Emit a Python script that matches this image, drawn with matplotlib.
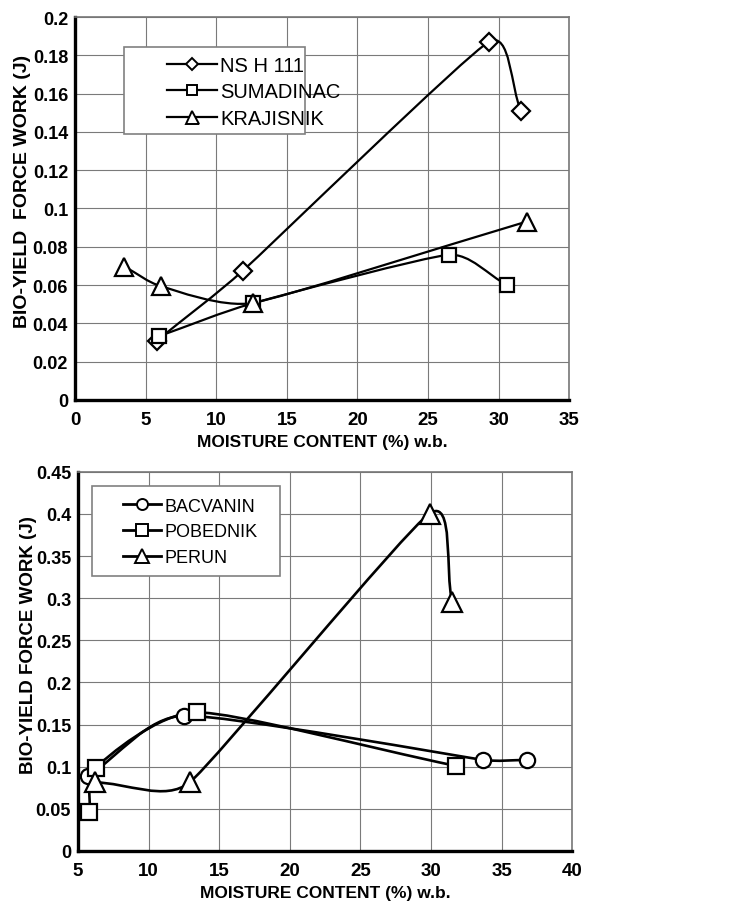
import numpy as np
import matplotlib
matplotlib.use("Agg")
import matplotlib.pyplot as plt
from matplotlib.path import Path
from matplotlib.patches import PathPatch, Rectangle
from matplotlib.lines import Line2D

plt.rcParams['font.family'] = ['Liberation Sans', 'DejaVu Sans']

# ---- top panel data
nsh_x = [5.8, 11.9, 29.3, 31.6]
nsh_y = [0.031, 0.0676, 0.187, 0.1507]
sum_x = [5.95, 12.6, 26.45, 30.6]
sum_y = [0.0333, 0.0505, 0.0758, 0.060]
kra_x = [3.5, 6.1, 12.6, 32.0]
kra_y = [0.0697, 0.0594, 0.0507, 0.0932]

# ---- bottom panel data
bac_x = [5.7, 12.5, 33.7, 36.8]
bac_y = [0.089, 0.1606, 0.108, 0.108]
pob_x = [5.8, 6.25, 13.4, 31.75]
pob_y = [0.0464, 0.099, 0.1645, 0.101]
per_x = [6.2, 12.9, 29.9, 31.5]
per_y = [0.0813, 0.0813, 0.4004, 0.296]


def smooth_line(ax, xs, ys, lw=1.6):
    # smoothed line like a spreadsheet chart: bezier through points, in screen space
    pts = ax.transData.transform(np.column_stack([xs, ys]))
    n = len(pts)
    seg = [np.hypot(*(pts[i + 1] - pts[i])) for i in range(n - 1)]
    tang, mag = [], []
    for i in range(n):
        a = pts[i - 1] if i > 0 else pts[i]
        b = pts[i + 1] if i < n - 1 else pts[i]
        d = b - a
        tang.append(d / np.hypot(*d))
        near = [seg[j] for j in (i - 1, i) if 0 <= j < n - 1]
        mag.append(min(near) / 3.0)
    verts = [pts[0]]
    codes = [Path.MOVETO]
    for i in range(n - 1):
        verts += [pts[i] + tang[i] * mag[i], pts[i + 1] - tang[i + 1] * mag[i + 1], pts[i + 1]]
        codes += [Path.CURVE4] * 3
    verts = ax.transData.inverted().transform(np.array(verts))
    ax.add_patch(PathPatch(Path(verts, codes), fill=False, lw=lw,
                           edgecolor='black', zorder=3, capstyle='round'))


def style_axes(ax, xlim, ylim, xt, yt, ylabels, ylab, ylab_fs, ylab_x):
    ax.set_xlim(*xlim)
    ax.set_ylim(*ylim)
    ax.set_xticks(xt)
    ax.set_yticks(yt)
    ax.set_yticklabels(ylabels)
    ax.grid(True, color='#7a7a7a', lw=0.8)
    ax.set_axisbelow(True)
    for s in ['top', 'right']:
        ax.spines[s].set_color('#777777')
        ax.spines[s].set_linewidth(1.2)
    for s in ['left', 'bottom']:
        ax.spines[s].set_color('black')
        ax.spines[s].set_linewidth(2.4)
    ax.tick_params(axis='y', length=0, pad=5, labelsize=13)
    ax.tick_params(axis='x', length=0, pad=8, labelsize=13.5)
    for lab in ax.get_xticklabels() + ax.get_yticklabels():
        lab.set_fontweight('bold')
    ax.set_xlabel("MOISTURE CONTENT (%) w.b.", fontsize=12.5, fontweight='bold', labelpad=4)
    ax.set_ylabel(ylab, fontsize=ylab_fs, fontweight='bold', va='center')
    ax.yaxis.set_label_coords(ylab_x, 0.546)


def draw_legend(ax, series, box, anchor, fs, lw, msf, hl, sp):
    handles = []
    for xs, ys, mk, ms, name in series:
        handles.append(Line2D([], [], color='black', lw=lw, marker=mk, ms=ms * msf,
                              mfc='white', mec='black', mew=1.4, label=name))
    leg = ax.legend(handles=handles, loc='upper left', bbox_to_anchor=anchor,
                    frameon=False, handlelength=hl, handletextpad=0.15,
                    borderpad=0, borderaxespad=0, labelspacing=sp,
                    prop={'size': fs})
    leg.set_zorder(6)
    ax.add_patch(Rectangle(box[:2], box[2], box[3], transform=ax.transAxes,
                           facecolor='white', edgecolor='#808080', lw=1.2, zorder=5))


fig = plt.figure(figsize=(7.5, 9.03), dpi=100)

# ---------------- top
ax1 = fig.add_axes([0.100, 0.556, 0.659, 0.424])
style_axes(ax1, (0, 35), (0, 0.2), range(0, 36, 5), np.arange(0, 0.201, 0.02),
           ['0', '0.02', '0.04', '0.06', '0.08', '0.1', '0.12', '0.14', '0.16', '0.18', '0.2'],
           "BIO-YIELD  FORCE WORK (J)", 14, -0.107)

top_series = [(nsh_x, nsh_y, 'D', 9, 'NS H 111'),
              (sum_x, sum_y, 's', 10, 'SUMADINAC'),
              (kra_x, kra_y, '^', 13, 'KRAJISNIK')]
for xs, ys, mk, ms, name in top_series:
    smooth_line(ax1, xs, ys)
    ax1.plot(xs, ys, ls='none', marker=mk, ms=ms, mfc='white', mec='black',
             mew=1.6, zorder=4)
draw_legend(ax1, top_series, (0.099, 0.695, 0.367, 0.227), (0.186, 0.898),
            14.5, 1.6, 0.72, 2.5, 0.36)

# ---------------- bottom
ax2 = fig.add_axes([0.104, 0.0565, 0.659, 0.420])
style_axes(ax2, (5, 40), (0, 0.45), range(5, 41, 5), np.arange(0, 0.451, 0.05),
           ['0', '0.05', '0.1', '0.15', '0.2', '0.25', '0.3', '0.35', '0.4', '0.45'],
           "BIO-YIELD FORCE WORK (J)", 13.5, -0.101)

bot_series = [(bac_x, bac_y, 'o', 11, 'BACVANIN'),
              (pob_x, pob_y, 's', 12, 'POBEDNIK'),
              (per_x, per_y, '^', 14, 'PERUN')]
for xs, ys, mk, ms, name in bot_series:
    smooth_line(ax2, xs, ys, lw=1.9)
    ax2.plot(xs, ys, ls='none', marker=mk, ms=ms, mfc='white', mec='black',
             mew=1.6, zorder=4)
draw_legend(ax2, bot_series, (0.028, 0.726, 0.381, 0.237), (0.092, 0.932),
            13, 2.0, 0.72, 2.1, 0.48)

fig.savefig("out.png", dpi=100)
